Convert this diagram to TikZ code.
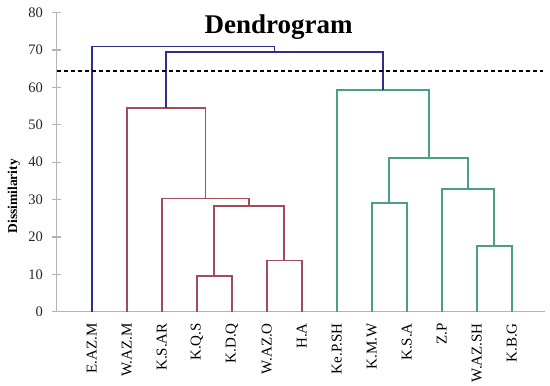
\documentclass[tikz,border=0pt]{standalone}
\usepackage{fontspec}
\setmainfont{Liberation Serif}
\usetikzlibrary{positioning, calc}
\definecolor{linkblue}{HTML}{2E2E8B}
\definecolor{linkred}{HTML}{A14B5B}
\definecolor{linkteal}{HTML}{4A9E8A}
\definecolor{axisgray}{HTML}{B4B4B4}
\tikzstyle{axisline} = [draw=axisgray, line width=1.2pt]
\tikzstyle{ticklabel} = [anchor=east, inner sep=0pt, font=\fontsize{14.5}{14.5}\selectfont, text=black!85]
\tikzstyle{leaflabel} = [rotate=90, anchor=east, inner sep=0pt, font=\fontsize{15}{15}\selectfont]
\tikzstyle{axistitle} = [rotate=90, inner sep=0pt, font=\fontsize{13.5}{13.5}\selectfont\bfseries]
\tikzstyle{plottitle} = [anchor=base, inner sep=0pt, font=\fontsize{27}{27}\selectfont\bfseries]
\tikzstyle{bluelink} = [draw=linkblue, line width=1.9pt]
\tikzstyle{redlink} = [draw=linkred, line width=1.8pt]
\tikzstyle{teallink} = [draw=linkteal, line width=1.8pt]
\tikzstyle{cutline} = [draw=black, line width=1.3pt, dash pattern=on 4pt off 3pt]

\begin{document}
\begin{tikzpicture}[x=35pt, y=3.74pt]
  \useasboundingbox (-1.62,-19.6) rectangle (14.09,83.34);

  \draw[axisline] (0,0) -- (0,80);
  \draw[axisline] (0,0) -- (13.95,0);
  \foreach \v in {0,10,...,80} {
    \draw[axisline] (-0.13,\v) -- (0.13,\v);
    \node[ticklabel] (tick\v) at (-0.39,\v) {\v};
  }
  \node[axistitle] (ylab) at (-1.22,30.9) {Dissimilarity};
  \node[plottitle] (title) at (6.34,74.5) {Dendrogram};

  \foreach \lab [count=\k] in {E.AZ.M, W.AZ.M, K.S.AR, K.Q.S, K.D.Q, W.AZ.O, H.A,
      Ke.P.SH, K.M.W, K.S.A, Z.P, W.AZ.SH, K.B.G} {
    \coordinate (l\k) at (\k,0);
    \node[leaflabel] (n\k) at (\k,-3) {\lab};
  }

  \coordinate (ma) at (4.5,9.5);
  \coordinate (mb) at (6.5,13.7);
  \coordinate (mc) at (5.5,28.3);
  \coordinate (md) at (4.25,30.3);
  \coordinate (me) at (3.125,54.5);
  \coordinate (mf) at (9.5,29.1);
  \coordinate (mg) at (12.5,17.6);
  \coordinate (mh) at (11.75,32.8);
  \coordinate (mi) at (10.625,41.2);
  \coordinate (mj) at (9.3125,59.2);
  \coordinate (mk) at (6.22,69.4);
  \coordinate (ml) at (3.61,70.9);

  \draw[redlink] (l4) |- (ma) -| (l5);
  \draw[redlink] (l6) |- (mb) -| (l7);
  \draw[redlink] (ma) |- (mc) -| (mb);
  \draw[redlink] (l3) |- (md) -| (mc);
  \draw[redlink] (l2) |- (me) -| (md);

  \draw[teallink] (l9) |- (mf) -| (l10);
  \draw[teallink] (l12) |- (mg) -| (l13);
  \draw[teallink] (l11) |- (mh) -| (mg);
  \draw[teallink] (mf) |- (mi) -| (mh);
  \draw[teallink] (l8) |- (mj) -| (mi);

  \draw[bluelink] (me) |- (mk) -| (mj);
  \draw[bluelink] (l1) |- (ml) -| (mk);

  \coordinate (cutl) at (0,64.4);
  \coordinate (cutr) at (13.9,64.4);
  \draw[cutline] (cutl) -- (cutr);
\end{tikzpicture}
\end{document}
